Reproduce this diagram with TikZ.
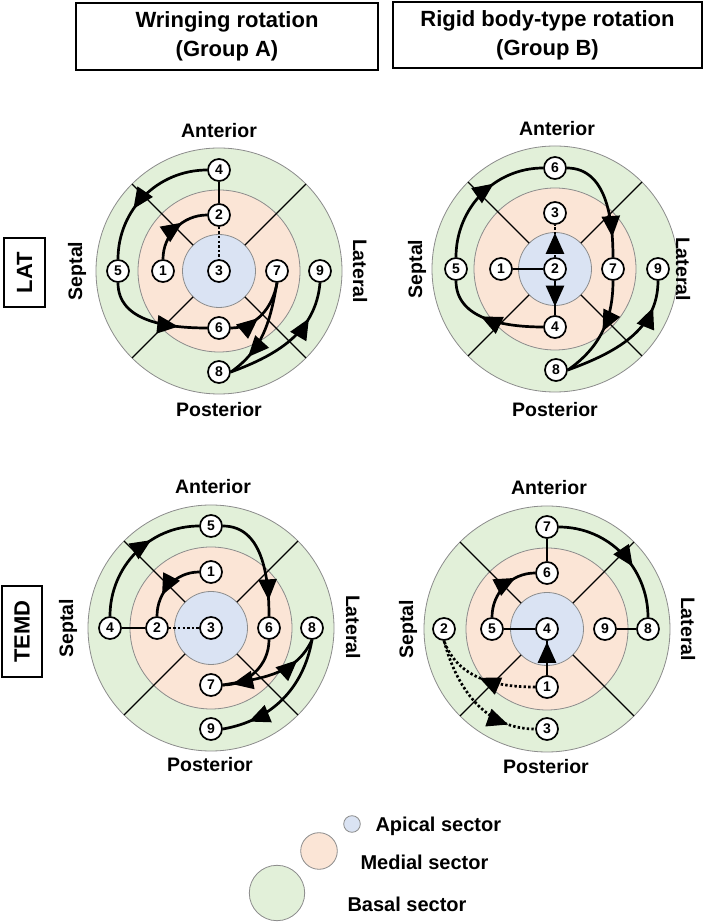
\documentclass[tikz,border=0pt]{standalone}
\usepackage{fontspec}
\setmainfont{Liberation Sans}
\usetikzlibrary{arrows.meta,decorations.markings}
\definecolor{basalc}{RGB}{226,240,217}
\definecolor{medialc}{RGB}{251,229,214}
\definecolor{apicalc}{RGB}{218,227,243}
\definecolor{ringgray}{RGB}{140,140,140}
\newcommand{\drawbullseye}[2]{%
  \filldraw[fill=basalc, draw=ringgray, line width=0.8pt] (#1,#2) circle[radius=123];
  \filldraw[fill=medialc, draw=ringgray, line width=0.8pt] (#1,#2) circle[radius=81];
  \filldraw[fill=apicalc, draw=ringgray, line width=0.8pt] (#1,#2) circle[radius=36.5];
  \foreach \a in {45,135,225,315}{\draw[sectorline] (#1,#2) ++(\a:36.5) -- ++(\a:86.5);}
}
\tikzset{
  sectorline/.style={line width=1.1pt, black},
  num/.style={circle, draw, line width=1.7pt, fill=white, minimum size=22pt, inner sep=0pt,
    font=\bfseries\fontsize{14}{14}\selectfont},
  conn/.style={line width=2.7pt, black},
  dotconn/.style={conn, dash pattern=on 2.4pt off 2.2pt},
  arr/.style={postaction={decorate, decoration={markings,
    mark=at position #1 with {\arrow{Triangle[length=21pt,width=18pt]}}}}},
  lbl/.style={font=\bfseries\fontsize{19.5}{22}\selectfont},
  hdr/.style={draw, line width=1.3pt, align=center, inner sep=0pt,
    font=\bfseries\fontsize{22}{29}\selectfont},
  side/.style={draw, line width=1.3pt, rotate=90, inner sep=0pt,
    font=\bfseries\fontsize{22}{22}\selectfont},
  legtext/.style={anchor=west, font=\bfseries\fontsize{20}{22}\selectfont},
}
\begin{document}
\begin{tikzpicture}[x=1pt,y=1pt]
\useasboundingbox (0,0) rectangle (707,922);
\fill[white] (0,0) rectangle (707,922);

% headers
\node[hdr, minimum width=302pt, minimum height=67pt] (hA) at (227,885.5) {Wringing rotation\\(Group A)};
\node[hdr, minimum width=309pt, minimum height=66pt] (hB) at (547.5,887) {Rigid body-type rotation\\(Group B)};
\node[side, minimum width=69pt, minimum height=41pt] (lat) at (24.5,649.5) {LAT};
\node[side, minimum width=91pt, minimum height=40pt] (temd) at (22,290.5) {TEMD};

% bullseyes
\drawbullseye{219}{651}
\drawbullseye{555}{653}
\drawbullseye{211}{294}
\drawbullseye{547}{293}

% orientation labels
\node[lbl] (antA) at (219,791) {Anterior};
\node[lbl] (posA) at (219,512) {Posterior};
\node[lbl, rotate=90] (sepA) at (77,651) {Septal};
\node[lbl, rotate=-90] (latA) at (360,651) {Lateral};
\node[lbl] (antB) at (557,793) {Anterior};
\node[lbl] (posB) at (555,512) {Posterior};
\node[lbl, rotate=90] (sepB) at (417,653) {Septal};
\node[lbl, rotate=-90] (latB) at (683,653) {Lateral};
\node[lbl] (antC) at (213,435) {Anterior};
\node[lbl] (posC) at (210,157) {Posterior};
\node[lbl, rotate=90] (sepC) at (68,294) {Septal};
\node[lbl, rotate=-90] (latC) at (353,295) {Lateral};
\node[lbl] (antD) at (549,434) {Anterior};
\node[lbl] (posD) at (546,155) {Posterior};
\node[lbl, rotate=90] (sepD) at (408,293) {Septal};
\node[lbl, rotate=-90] (latD) at (688,293) {Lateral};

% ---------- circle A (LAT, wringing) ----------
\node[num] (a4) at (219,752) {4};
\node[num] (a2) at (219,707) {2};
\node[num] (a3) at (219,651) {3};
\node[num] (a1) at (163,651) {1};
\node[num] (a5) at (118,651) {5};
\node[num] (a7) at (277,651) {7};
\node[num] (a9) at (320,651) {9};
\node[num] (a6) at (219,594) {6};
\node[num] (a8) at (219,550) {8};
\draw[conn] (a4) -- (a2);
\draw[dotconn] (a2) -- (a3);
\draw[conn, arr=0.62] (a1.north) to[out=90,in=180] (a2.west);
\draw[conn, arr=0.62] (a4.west) to[out=180,in=90] (a5.north);
\draw[conn, arr=0.74] (a5.south) to[out=-90,in=180] (a6.west);
\draw[conn, arr=0.42] (a6.east) to[out=0,in=-100] (a7.south);
\draw[conn, arr=0.78] (a7.south) to[out=-100,in=35] (a8.east);
\draw[conn, arr=0.72] (a8.east) to[out=20,in=-95] (a9.south);

% ---------- circle B (LAT, rigid) ----------
\node[num] (b6) at (555,754) {6};
\node[num] (b3) at (555,709) {3};
\node[num] (b2) at (555,653) {2};
\node[num] (b1) at (501,653) {1};
\node[num] (b5) at (456,653) {5};
\node[num] (b7) at (613,653) {7};
\node[num] (b9) at (658,653) {9};
\node[num] (b4) at (555,595) {4};
\node[num] (b8) at (556,552) {8};
\draw[conn] (b1) -- (b2);
\draw[dotconn, arr=0.75] (b2) -- (b3);
\draw[conn, arr=0.75] (b2) -- (b4);
\draw[conn, arr=0.58] (b4.west) to[out=180,in=-90] (b5.south);
\draw[conn, arr=0.62] (b5.north) to[out=90,in=180] (b6.west);
\draw[conn, arr=0.82] (b6.east) to[out=0,in=90] (b7.north);
\draw[conn, arr=0.5] (b7.south) to[out=-90,in=35] (b8.east);
\draw[conn, arr=0.8] (b8.east) to[out=20,in=-90] (b9.south);

% ---------- circle C (TEMD, wringing) ----------
\node[num] (c5) at (211,396) {5};
\node[num] (c1) at (211,350) {1};
\node[num] (c4) at (110,294) {4};
\node[num] (c2) at (157,294) {2};
\node[num] (c3) at (211,294) {3};
\node[num] (c6) at (269,294) {6};
\node[num] (c8) at (312,294) {8};
\node[num] (c7) at (211,237) {7};
\node[num] (c9) at (211,193) {9};
\draw[conn] (c4) -- (c2);
\draw[dotconn] (c2) -- (c3);
\draw[conn, arr=0.68] (c1.west) to[out=180,in=90] (c2.north);
\draw[conn, arr=0.64] (c4.north) to[out=90,in=180] (c5.west);
\draw[conn, arr=0.86] (c5.east) to[out=0,in=90] (c6.north);
\draw[conn, arr=0.87] (c6.south) to[out=-90,in=0] (c7.east);
\draw[conn, arr=0.76] (c7.east) to[out=10,in=-115] (c8.south);
\draw[conn, arr=0.8] (c8.south) to[out=-100,in=10] (c9.east);

% ---------- circle D (TEMD, rigid) ----------
\node[num] (d7) at (547,395) {7};
\node[num] (d6) at (547,349) {6};
\node[num] (d2) at (444,293) {2};
\node[num] (d5) at (492,293) {5};
\node[num] (d4) at (547,293) {4};
\node[num] (d9) at (605,293) {9};
\node[num] (d8) at (648,293) {8};
\node[num] (d1) at (547,235) {1};
\node[num] (d3) at (547,193) {3};
\draw[conn] (d7) -- (d6);
\draw[conn] (d5) -- (d4);
\draw[conn] (d9) -- (d8);
\draw[conn, arr=0.97] (d1) -- (d4);
\draw[conn, arr=0.7] (d5.north) to[out=90,in=180] (d6.west);
\draw[conn, arr=0.62] (d7.east) to[out=0,in=90] (d8.north);
\draw[dotconn, arr=0.52] (d1.west) to[out=180,in=-70] (d2.south);
\draw[dotconn, arr=0.8] (d2.south) to[out=-75,in=180] (d3.west);

% ---------- legend ----------
\filldraw[fill=apicalc, draw=ringgray, line width=0.8pt] (352,98) circle[radius=8.3];
\filldraw[fill=medialc, draw=ringgray, line width=0.8pt] (319,71) circle[radius=18.3];
\filldraw[fill=basalc, draw=ringgray, line width=0.8pt] (277,29) circle[radius=27.7];
\node[legtext] (lgA) at (372,96) {Apical sector};
\node[legtext] (lgM) at (357,60) {Medial sector};
\node[legtext] (lgB) at (344,18) {Basal sector};
\end{tikzpicture}
\end{document}
